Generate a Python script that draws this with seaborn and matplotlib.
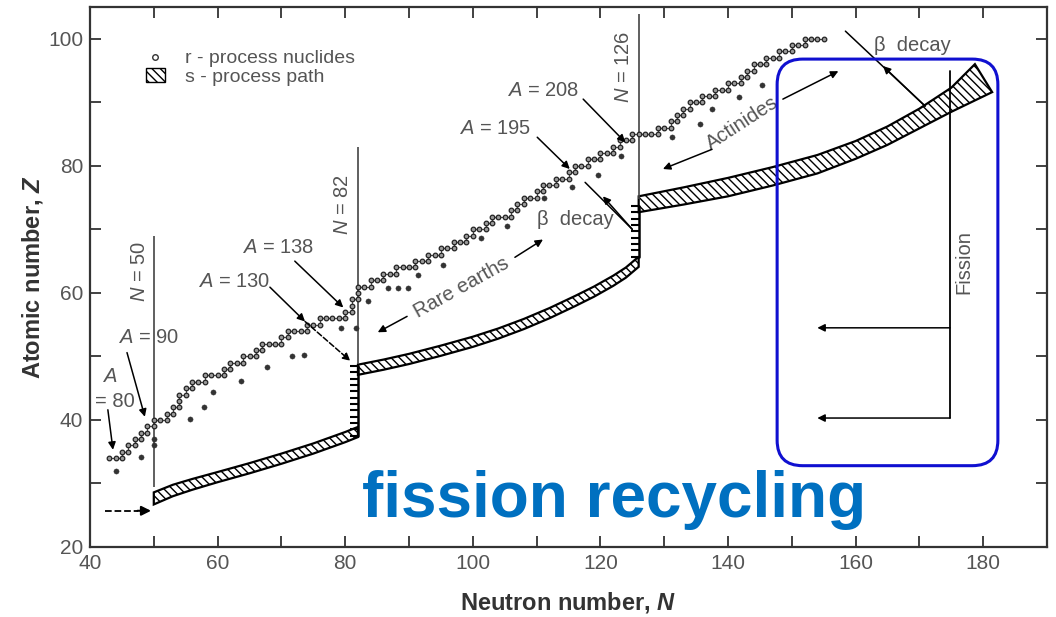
import numpy as np
import matplotlib
matplotlib.use("Agg")
import matplotlib.pyplot as plt
import seaborn as sns
from matplotlib.patches import FancyBboxPatch, Patch
from matplotlib.lines import Line2D
from matplotlib.markers import TICKLEFT

# r-process nuclides (staircase)
r_N = [43, 44, 45, 45, 46, 46, 47, 47, 48, 48, 49, 49, 50, 50, 51, 52, 52, 53, 53, 54,
       54, 54, 55, 55, 56, 56, 57, 58, 58, 59, 60, 61, 61, 62, 62, 63, 64, 64, 65, 66,
       66, 67, 67, 68, 69, 70, 70, 71, 71, 72, 73, 74, 74, 75, 76, 76, 77, 78, 79, 80,
       80, 81, 81, 81, 82, 82, 82, 83, 84, 84, 85, 86, 86, 87, 88, 88, 89, 90, 91, 91,
       92, 93, 93, 94, 95, 95, 96, 97, 97, 98, 99, 99, 100, 100, 101, 102, 102, 103, 103, 104,
       105, 106, 106, 107, 107, 108, 108, 109, 110, 110, 111, 111, 112, 113, 113, 114, 115, 115, 116, 116,
       117, 118, 118, 119, 120, 120, 121, 122, 122, 123, 123, 124, 125, 125, 126, 127, 128, 129, 129, 130,
       131, 131, 132, 132, 133, 133, 134, 134, 135, 136, 136, 137, 138, 138, 139, 140, 140, 141, 142, 142,
       143, 143, 144, 144, 145, 146, 146, 147, 148, 148, 149, 150, 150, 151, 152, 152, 153, 154, 155]
r_Z = [34, 34, 34, 35, 35, 36, 36, 37, 37, 38, 38, 39, 39, 40, 40, 40, 41, 41, 42, 42,
       43, 44, 44, 45, 45, 46, 46, 46, 47, 47, 47, 47, 48, 48, 49, 49, 49, 50, 50, 50,
       51, 51, 52, 52, 52, 52, 53, 53, 54, 54, 54, 54, 55, 55, 55, 56, 56, 56, 56, 56,
       57, 57, 58, 59, 59, 60, 61, 61, 61, 62, 62, 62, 63, 63, 63, 64, 64, 64, 64, 65,
       65, 65, 66, 66, 66, 67, 67, 67, 68, 68, 68, 69, 69, 70, 70, 70, 71, 71, 72, 72,
       72, 72, 73, 73, 74, 74, 75, 75, 75, 76, 76, 77, 77, 77, 78, 78, 78, 79, 79, 80,
       80, 80, 81, 81, 81, 82, 82, 82, 83, 83, 84, 84, 84, 85, 85, 85, 85, 85, 86, 86,
       86, 87, 87, 88, 88, 89, 89, 90, 90, 90, 91, 91, 91, 92, 92, 92, 93, 93, 93, 94,
       94, 95, 95, 96, 96, 96, 97, 97, 97, 98, 98, 98, 99, 99, 99, 100, 100, 100, 100]

# isolated r-process points below the staircase
low_N = [44, 48, 50, 50, 55.7, 57.8, 59.3, 63.6, 67.8, 71.6, 73.6, 79.3, 81.7, 83.5, 86.7,
         88.2, 89.8, 91.4, 95.3, 101.3, 105.3, 111.2, 115.5, 119.7, 123.3, 131.2, 135.6,
         137.5, 141.7, 145.3]
low_Z = [32, 34.1, 36, 37, 40.1, 42, 44.4, 46.1, 48.4, 50.1, 50.3, 54.4, 54.4, 58.7, 60.7,
         60.7, 60.7, 62.8, 64.4, 68.7, 70.6, 75, 76.6, 78.6, 81.6, 84.5, 86.6, 88.9, 90.8, 92.7]

# s-process path bands (upper / lower edges)
band1_N = [50, 53, 56, 60, 65, 70, 75, 80, 82]
band1_hi = [28.6, 29.8, 30.7, 31.8, 33.2, 34.7, 36.3, 38.1, 38.9]
band1_lo = [26.7, 28.0, 29.0, 30.2, 31.6, 33.1, 34.7, 36.5, 37.3]
band2_N = [82, 86, 90, 95, 100, 104, 108, 112, 116, 119, 122, 124, 126]
band2_hi = [48.7, 49.5, 50.4, 51.7, 53.1, 54.4, 55.9, 57.6, 59.5, 61.0, 62.7, 64.0, 65.7]
band2_lo = [47.1, 47.9, 48.8, 50.1, 51.5, 52.8, 54.3, 56.0, 57.9, 59.4, 61.1, 62.4, 64.1]
band3_hi_N = [126, 133, 140, 147, 154, 160, 165, 170, 175, 178.7]
band3_hi_Z = [75.2, 76.6, 78.1, 79.8, 81.7, 83.9, 86.2, 89.0, 92.3, 96.0]
band3_lo_N = [126, 133, 140, 147, 154, 160, 165, 170, 175, 181.4]
band3_lo_Z = [72.7, 73.9, 75.2, 76.9, 78.8, 81.1, 83.3, 85.9, 88.5, 91.6]
comb1_Z = [37.5, 38.5, 39.5, 40.5, 41.5, 42.5, 43.5, 44.5, 45.5, 46.5, 47.5, 48.5]
comb2_Z = [65.7, 66.7, 67.7, 68.7, 69.7, 70.7, 71.7, 72.7, 73.7]

magic_N = [50, 82, 126]
magic_lo = [29.5, 48.8, 74.7]
magic_hi = [68.9, 82.9, 103.9]

sns.set_theme(style="ticks")
plt.rcParams["font.family"] = ["Liberation Sans", "DejaVu Sans"]
plt.rcParams["mathtext.fontset"] = "custom"
plt.rcParams["mathtext.rm"] = "Liberation Sans"
plt.rcParams["mathtext.it"] = "Liberation Sans:italic"
plt.rcParams["mathtext.bfit"] = "Liberation Sans:italic:bold"
plt.rcParams["hatch.linewidth"] = 1.0

gray = "#555555"
fig = plt.figure(figsize=(10.56, 6.17), dpi=100)
ax = fig.add_axes([90 / 1056, 70 / 617, 957 / 1056, 540 / 617])

# r-process nuclides
sns.lineplot(x=r_N, y=r_Z, sort=False, estimator=None, color="#444444", lw=0.7, ax=ax)
sns.scatterplot(x=r_N, y=r_Z, s=11, color="#9a9a9a", edgecolor="#222222", linewidth=0.9, ax=ax, zorder=3)
sns.scatterplot(x=low_N, y=low_Z, s=14, color="#333333", edgecolor="#333333", ax=ax, zorder=3)

# s-process path
hatch = "\\\\\\\\"
for xs, ys in [(band1_N + band1_N[::-1], band1_hi + band1_lo[::-1]),
               (band2_N + band2_N[::-1], band2_hi + band2_lo[::-1]),
               (band3_hi_N + band3_lo_N[::-1], band3_hi_Z + band3_lo_Z[::-1])]:
    ax.fill(xs, ys, facecolor="white", edgecolor="black", hatch=hatch, lw=1.6, zorder=2)
ax.plot([82] * len(comb1_Z), comb1_Z, color="black", lw=1.8, marker=TICKLEFT, ms=6, mew=1.5)
ax.plot([126] * len(comb2_Z), comb2_Z, color="black", lw=1.8, marker=TICKLEFT, ms=6, mew=1.5)
ax.plot([42.4, 47.5], [25.7, 25.7], color="black", ls="--", lw=1.3)
ax.annotate("", xy=(50, 25.7), xytext=(47, 25.7),
            arrowprops=dict(arrowstyle="-|>", color="black", lw=1.5, mutation_scale=14))

# magic numbers
ax.vlines(magic_N, magic_lo, magic_hi, color="#444444", lw=1.2)
tk = dict(color=gray, fontsize=14.5, rotation=90, ha="center", va="center")
ax.text(47.8, 63.4, "$N$ = 50", **tk)
ax.text(79.5, 73.9, "$N$ = 82", **tk)
ax.text(123.6, 95.6, "$N$ = 126", **tk)


def arrow(tail, head, ls="-"):
    ax.annotate("", xy=head, xytext=tail,
                arrowprops=dict(arrowstyle="-|>", color="black", lw=1.1, ls=ls,
                                mutation_scale=11, shrinkA=0, shrinkB=0))


tx = dict(color=gray, fontsize=14.5, ha="center", va="center")
ax.text(43.1, 46.8, "$A$", **tx)
ax.text(43.9, 42.9, "= 80", **tx)
arrow((42.8, 41.6), (43.6, 35.3))
ax.text(49.1, 53.0, "$A$ = 90", **tx)
arrow((45.8, 50.6), (48.6, 40.5))
ax.text(62.6, 61.8, "$A$ = 130", **tx)
arrow((68.2, 60.9), (73.7, 55.5))
arrow((73.7, 55.5), (80.8, 49.3), ls="--")
ax.text(69.5, 67.2, "$A$ = 138", **tx)
arrow((72.1, 65.0), (79.7, 57.7))
ax.text(103.5, 85.8, "$A$ = 195", **tx)
arrow((110.1, 84.5), (115.2, 79.5))
ax.text(111.0, 91.8, "$A$ = 208", **tx)
arrow((117.3, 90.5), (123.9, 83.7))

# beta decay
ax.text(116.0, 71.6, "β  decay", **tx)
ax.plot([117.6, 125.0], [77.4, 70.0], color="black", lw=1.1)
arrow((125.0, 70.0), (120.4, 75.2))
ax.text(168.9, 98.9, "β  decay", **tx)
ax.plot([158.4, 170.9], [101.2, 89.4], color="black", lw=1.1)
arrow((170.9, 89.4), (164.3, 95.7))

# rare earths / actinides
ax.text(98.3, 60.9, "Rare earths", rotation=29, rotation_mode="anchor", **tx)
arrow((89.7, 56.3), (85.1, 53.8))
arrow((106.6, 65.6), (111.0, 68.4))
ax.text(142.2, 86.7, "Actinides", rotation=33, rotation_mode="anchor", **tx)
arrow((137.5, 82.6), (129.8, 79.5))
arrow((148.6, 90.5), (157.3, 94.9))

# fission
ax.plot([174.8, 174.8], [94.9, 40.3], color="black", lw=1.3)
arrow((174.8, 54.5), (154.0, 54.5))
arrow((174.8, 40.3), (154.0, 40.3))
ax.text(176.9, 64.8, "Fission", color=gray, fontsize=14.5, rotation=90, ha="center", va="center")

box = FancyBboxPatch((147.7, 32.8), 182.3 - 147.7, 96.8 - 32.8,
                     boxstyle="round,pad=0,rounding_size=4", fill=False,
                     edgecolor="#1010d0", lw=2.2, zorder=5)
ax.add_patch(box)
ax.text(82.6, 24.7, "fission recycling", color="#0070c0", fontsize=46,
        fontweight="bold", ha="left", va="baseline")

# legend
handles = [Line2D([], [], marker="o", ls="none", mfc="white", mec="#333333", ms=4, mew=1),
           Patch(facecolor="white", edgecolor="black", hatch=hatch, lw=1)]
ax.legend(handles, ["r - process nuclides", "s - process path"], loc="upper left",
          bbox_to_anchor=(0.05, 0.935), frameon=False, fontsize=14, labelcolor=gray,
          handlelength=1.0, handletextpad=1.0, labelspacing=0.05, borderaxespad=0)

ax.set_xlim(40, 190)
ax.set_ylim(20, 105)
ax.set_xticks(np.arange(40, 181, 20))
ax.set_xticks(np.arange(50, 191, 20), minor=True)
ax.set_yticks(np.arange(20, 101, 20))
ax.set_yticks(np.arange(30, 101, 20), minor=True)
ax.tick_params(which="both", direction="in", top=True, right=True, length=8, width=1.3,
               color="#333333", labelsize=15, labelcolor=gray, pad=5)
for s in ax.spines.values():
    s.set_color("#333333")
    s.set_linewidth(1.6)
ax.set_xlabel(r"Neutron number, $\mathbfit{N}$", fontsize=17, fontweight="bold",
              color="#333333", labelpad=12)
ax.set_ylabel(r"Atomic number, $\mathbfit{Z}$", fontsize=17, fontweight="bold",
              color="#333333", labelpad=2)

fig.savefig("out.png", dpi=100)
